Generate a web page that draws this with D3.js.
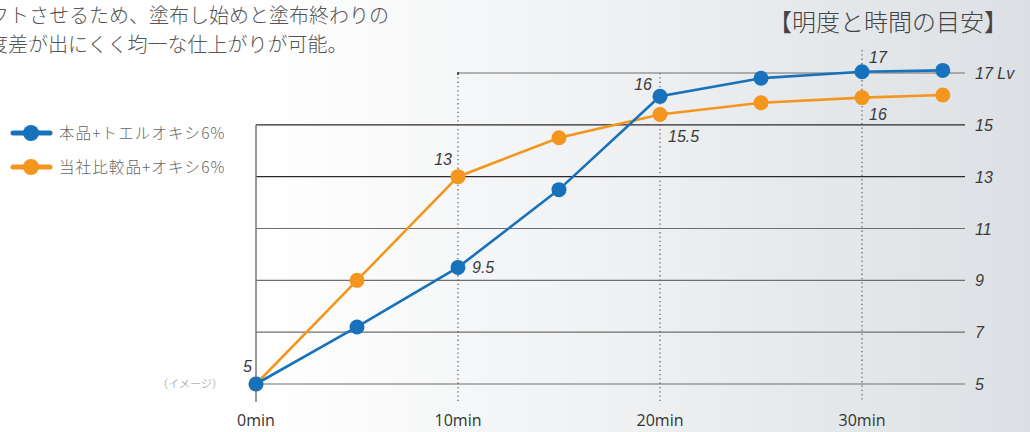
<!DOCTYPE html>
<html>
<head>
<meta charset="utf-8">
<script src="https://cdn.jsdelivr.net/npm/d3@7"></script>
<style>
  html, body { margin: 0; padding: 0; }
  svg { display: block; }
</style>
</head>
<body>
<svg id="chart" width="1030" height="432"></svg>
<script>
// data
var minutes = [0, 5, 10, 15, 20, 25, 30, 34];
var ourValues = [5, 7.2, 9.5, 12.5, 16.1, 16.8, 17.05, 17.1];
var rivalValues = [5, 9, 13, 14.5, 15.4, 15.85, 16.05, 16.15];
var yTicks = [5, 7, 9, 11, 13, 15, 17];
var xTicks = [0, 10, 20, 30];
var seriesNames = ['本品+トエルオキシ6%', '当社比較品+オキシ6%'];
var pointLabels = [
    { text: '5', m: 0, v: 5, dx: -4, dy: -12, anchor: 'end' },
    { text: '9.5', m: 10, v: 9.5, dx: 14, dy: 6, anchor: 'start' },
    { text: '13', m: 10, v: 13, dx: -6, dy: -12, anchor: 'end' },
    { text: '16', m: 20, v: 16.1, dx: -8, dy: -6, anchor: 'end' },
    { text: '15.5', m: 20, v: 15.4, dx: 8, dy: 28, anchor: 'start' },
    { text: '17', m: 30, v: 17.05, dx: 7, dy: -9, anchor: 'start' },
    { text: '16', m: 30, v: 16.05, dx: 7, dy: 22, anchor: 'start' }
];

var blue = '#1872bb',
    orange = '#f4961e';

var svg = d3.select('#chart');

var defs = svg.append('defs');
var grad = defs.append('linearGradient')
    .attr('id', 'bg')
    .attr('x1', '0').attr('x2', '1').attr('y1', '0').attr('y2', '0');
grad.append('stop').attr('offset', '0.25').attr('stop-color', '#ffffff');
grad.append('stop').attr('offset', '1').attr('stop-color', '#dce0e4');

svg.append('rect')
    .attr('width', 1030).attr('height', 432)
    .attr('fill', 'url(#bg)');

var x = d3.scaleLinear().domain([0, 30]).range([256, 862]);
var y = d3.scaleLinear().domain([5, 17]).range([384, 73]);

var numFont = '"Liberation Sans", Arial, sans-serif';
var jpFont = '"Noto Sans CJK JP Light", "Noto Sans CJK JP DemiLight", "Noto Sans CJK JP", "Noto Sans", sans-serif';

// intro text, cut at the left edge like the original
var intro = svg.append('g')
    .attr('font-family', jpFont)
    .attr('font-weight', 300)
    .attr('font-size', 20)
    .attr('fill', '#555');
intro.append('text').attr('x', -31).attr('y', 23)
    .text('シフトさせるため、塗布し始めと塗布終わりの');
intro.append('text').attr('x', -32).attr('y', 52)
    .text('明度差が出にくく均一な仕上がりが可能。');

svg.append('text')
    .attr('x', 768).attr('y', 31)
    .attr('font-family', jpFont)
    .attr('font-weight', 300)
    .attr('font-size', 24)
    .attr('fill', '#444')
    .text('【明度と時間の目安】');

// horizontal grid
var grid = svg.append('g');
yTicks.forEach(function (t) {
    var startX = t === 17 ? x(10) : x(0);
    var dark = (t === 13 || t === 15);
    grid.append('line')
        .attr('x1', startX).attr('x2', 965)
        .attr('y1', y(t)).attr('y2', y(t))
        .attr('stroke', dark ? '#2a2a2a' : '#6e6e6e')
        .attr('stroke-width', 1.2);
});

// left axis line
svg.append('line')
    .attr('x1', x(0)).attr('x2', x(0))
    .attr('y1', y(15)).attr('y2', 402)
    .attr('stroke', '#777').attr('stroke-width', 1.5);

// dotted verticals
[10, 20, 30].forEach(function (m) {
    svg.append('line')
        .attr('x1', x(m)).attr('x2', x(m))
        .attr('y1', m === 30 ? 50 : y(17)).attr('y2', 402)
        .attr('stroke', '#666')
        .attr('stroke-width', 1.3)
        .attr('stroke-dasharray', '1.3,3');
});
svg.append('line')
    .attr('x1', x(10)).attr('x2', x(10))
    .attr('y1', y(17) - 1).attr('y2', y(17) + 2)
    .attr('stroke', '#333').attr('stroke-width', 1.5);

// right axis labels
svg.append('g').selectAll('text')
    .data(yTicks)
    .join('text')
    .attr('x', 975)
    .attr('y', d => y(d) + 6)
    .attr('font-family', numFont)
    .attr('font-style', 'italic')
    .attr('font-size', 16)
    .attr('fill', '#3a3a3a')
    .text(d => d === 17 ? '17 Lv' : d);

// bottom labels
svg.append('g').selectAll('text')
    .data(xTicks)
    .join('text')
    .attr('x', d => x(d))
    .attr('y', 426)
    .attr('text-anchor', 'middle')
    .attr('font-family', '"Open Sans", "Noto Sans", sans-serif')
    .attr('font-size', 16)
    .attr('fill', '#333')
    .text(d => d + 'min');

svg.append('text')
    .attr('x', 190).attr('y', 388)
    .attr('text-anchor', 'middle')
    .attr('font-family', jpFont)
    .attr('font-weight', 300)
    .attr('font-size', 11)
    .attr('fill', '#888')
    .text('（イメージ）');

// series
var line = d3.line()
    .x(d => x(d[0]))
    .y(d => y(d[1]));

function drawSeries(values, color) {
    var pts = minutes.map((m, i) => [m, values[i]]);
    var g = svg.append('g');
    g.append('path')
        .datum(pts)
        .attr('d', line)
        .attr('fill', 'none')
        .attr('stroke', color)
        .attr('stroke-width', 2.6);
    g.selectAll('circle')
        .data(pts)
        .join('circle')
        .attr('cx', d => x(d[0]))
        .attr('cy', d => y(d[1]))
        .attr('r', 7.5)
        .attr('fill', color);
}
drawSeries(rivalValues, orange);
drawSeries(ourValues, blue);

// point labels
svg.append('g').selectAll('text')
    .data(pointLabels)
    .join('text')
    .attr('x', d => x(d.m) + d.dx)
    .attr('y', d => y(d.v) + d.dy)
    .attr('text-anchor', d => d.anchor)
    .attr('font-family', numFont)
    .attr('font-style', 'italic')
    .attr('font-size', 16)
    .attr('fill', '#3a3a3a')
    .text(d => d.text);

// legend
var legend = svg.append('g');
[blue, orange].forEach(function (c, i) {
    var ly = 133 + i * 34;
    legend.append('line')
        .attr('x1', 13).attr('x2', 50)
        .attr('y1', ly).attr('y2', ly)
        .attr('stroke', c).attr('stroke-width', 5)
        .attr('stroke-linecap', 'round');
    legend.append('circle')
        .attr('cx', 31).attr('cy', ly).attr('r', 8)
        .attr('fill', c);
    legend.append('text')
        .attr('x', 59).attr('y', ly + 6)
        .attr('font-family', jpFont)
        .attr('font-weight', 300)
        .attr('font-size', 15.5)
        .attr('letter-spacing', 1.1)
        .attr('fill', '#666')
        .text(seriesNames[i]);
});
</script>
</body>
</html>
